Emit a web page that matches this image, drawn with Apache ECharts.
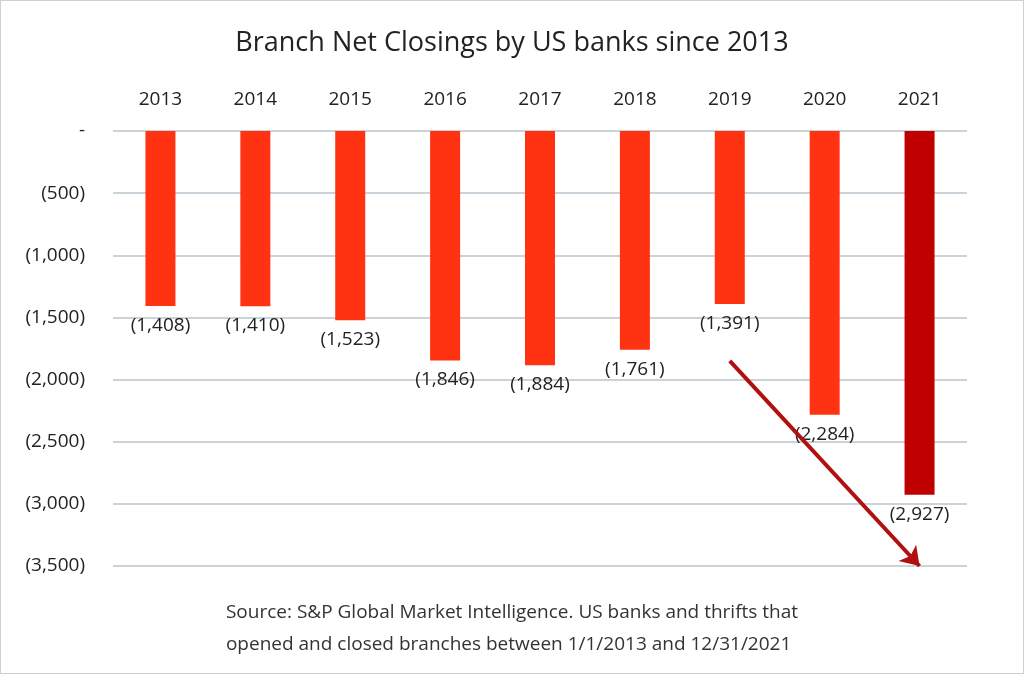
<!DOCTYPE html><html><head><meta charset="utf-8">
<script src="https://cdn.jsdelivr.net/npm/echarts@6/dist/echarts.min.js"></script>
<style>html,body{margin:0;padding:0;background:#fff}#c{width:1022px;height:672px;border:1px solid #d0d0d0}</style>
</head><body><div id="c"></div><script>
const years=['2013','2014','2015','2016','2017','2018','2019','2020','2021'];
const closings=[-1408,-1410,-1523,-1846,-1884,-1761,-1391,-2284,-2927];
const barColors=['#FF3311','#FF3311','#FF3311','#FF3311','#FF3311','#FF3311','#FF3311','#FF3311','#C00000'];
const arrowStart=['2019',-1850], arrowEnd=['2021',-3500];
const fmt=v=>v===0?'-':'('+Math.abs(v).toLocaleString('en-US')+')';
const ch=echarts.init(document.getElementById('c'));
ch.setOption({
 textStyle:{fontFamily:'Open Sans'},
 title:{text:'Branch Net Closings by US banks since 2013',left:'center',top:24,textStyle:{fontSize:27,fontWeight:'normal',color:'#222',fontFamily:'Open Sans'}},
 graphic:[{type:'text',left:'center',top:596,style:{text:'Source: S&P Global Market Intelligence. US banks and thrifts that\nopened and closed branches between 1/1/2013 and 12/31/2021',fontSize:19,lineHeight:32,fill:'#333',align:'center',fontFamily:'Open Sans'}}],
 grid:{left:112,right:56,top:130,bottom:107},
 xAxis:{type:'category',data:years,position:'top',axisLine:{show:false},axisTick:{show:false},axisLabel:{fontSize:19,color:'#222',margin:22}},
 yAxis:{type:'value',min:-3500,max:0,interval:500,axisLabel:{formatter:fmt,fontSize:19,color:'#222',margin:28},splitLine:{lineStyle:{color:'#b8c4cc',width:1.5}}},
 series:[{type:'bar',barWidth:30,data:closings.map((v,i)=>({value:v,itemStyle:{color:barColors[i]}})),
  label:{show:true,position:'bottom',distance:10,fontSize:19,color:'#222',formatter:p=>fmt(p.value)},
  markLine:{silent:true,symbol:['none','arrow'],symbolSize:18,label:{show:false},lineStyle:{color:'#B01010',width:4,type:'solid'},
   data:[[{coord:arrowStart},{coord:arrowEnd}]]}}]
});
</script></body></html>
